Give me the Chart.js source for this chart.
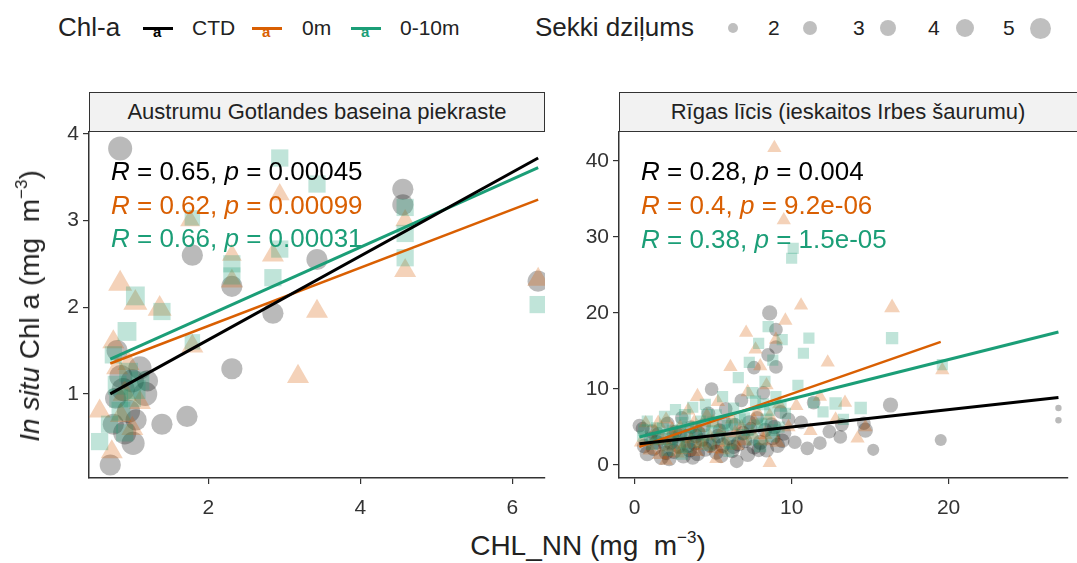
<!DOCTYPE html>
<html>
<head>
<meta charset="utf-8">
<script src="https://cdn.jsdelivr.net/npm/chart.js@4"></script>
<style>
body { margin:0; width:1077px; height:563px; background:#fff; position:relative; overflow:hidden; font-family:"Liberation Sans", Arial, sans-serif; color:#222; }
.abs { position:absolute; white-space:nowrap; }
canvas { position:absolute; }
.strip { position:absolute; top:92px; height:40px; box-sizing:border-box; border:1.5px solid #333; background:#f2f2f2; font-size:22px; line-height:37px; text-align:center; color:#222; white-space:nowrap; overflow:hidden; }
.cor { position:absolute; font-size:26px; line-height:34px; white-space:nowrap; }
.key { position:absolute; top:27px; width:30px; height:3px; }
.keya { position:absolute; top:23px; font-size:15px; font-weight:bold; }
.dot { position:absolute; border-radius:50%; background:rgba(0,0,0,0.25); }
sup { font-size:17px; vertical-align:12px; line-height:0; }
</style>
</head>
<body>

<!-- legend -->
<div class="abs" style="left:58px;top:12px;font-size:26px;">Chl-a</div>
<div class="key" style="left:143px;background:#000"></div><div class="keya" style="left:153px;color:#000">a</div>
<div class="abs" style="left:192px;top:16px;font-size:21px;">CTD</div>
<div class="key" style="left:252px;background:#D95F02"></div><div class="keya" style="left:262px;color:#D95F02">a</div>
<div class="abs" style="left:302px;top:16px;font-size:21px;">0m</div>
<div class="key" style="left:351px;background:#1B9E77"></div><div class="keya" style="left:361px;color:#1B9E77">a</div>
<div class="abs" style="left:400px;top:16px;font-size:21px;">0-10m</div>

<div class="abs" style="left:535px;top:12px;font-size:26px;">Sekki dziļums</div>
<div class="dot" style="left:728px;top:23px;width:10px;height:10px;"></div>
<div class="abs" style="left:768px;top:16px;font-size:21px;">2</div>
<div class="dot" style="left:803px;top:21px;width:14px;height:14px;"></div>
<div class="abs" style="left:853px;top:16px;font-size:21px;">3</div>
<div class="dot" style="left:880px;top:20px;width:16px;height:16px;"></div>
<div class="abs" style="left:928px;top:16px;font-size:21px;">4</div>
<div class="dot" style="left:956px;top:19px;width:18px;height:18px;"></div>
<div class="abs" style="left:1003px;top:16px;font-size:21px;">5</div>
<div class="dot" style="left:1030px;top:18px;width:21px;height:21px;"></div>

<!-- facet strips -->
<div class="strip" style="left:89px;width:456px;">Austrumu Gotlandes baseina piekraste</div>
<div class="strip" style="left:619px;width:470px;padding-right:12px;">Rīgas līcis (ieskaitos Irbes šaurumu)</div>

<canvas id="left" width="530" height="408" style="left:30px;top:112px;"></canvas>
<canvas id="right" width="517" height="408" style="left:560px;top:112px;"></canvas>

<!-- correlation labels -->
<div class="cor" style="left:111px;top:154px;color:#000"><i>R</i> = 0.65, <i>p</i> = 0.00045</div>
<div class="cor" style="left:111px;top:188px;color:#D95F02"><i>R</i> = 0.62, <i>p</i> = 0.00099</div>
<div class="cor" style="left:111px;top:221px;color:#1B9E77"><i>R</i> = 0.66, <i>p</i> = 0.00031</div>
<div class="cor" style="left:641px;top:154px;color:#000"><i>R</i> = 0.28, <i>p</i> = 0.004</div>
<div class="cor" style="left:641px;top:188px;color:#D95F02"><i>R</i> = 0.4, <i>p</i> = 9.2e-06</div>
<div class="cor" style="left:641px;top:222px;color:#1B9E77"><i>R</i> = 0.38, <i>p</i> = 1.5e-05</div>

<!-- axis titles -->
<div class="abs" style="left:30px;top:306px;font-size:28px;transform:translate(-50%,-50%) rotate(-90deg);"><i>In situ</i> Chl a (mg&nbsp; m<sup>−3</sup>)</div>
<div class="abs" style="left:588px;top:546px;font-size:28px;transform:translate(-50%,-50%);">CHL_NN (mg&nbsp; m<sup>−3</sup>)</div>

<script>
// Austrumu Gotlandes baseina piekraste: [CHL_NN, in situ Chl a, Secchi depth]
const gotCTD = [
  [0.84, 3.83, 7.5], [4.56, 3.36, 6], [4.56, 3.18, 6], [3.43, 2.55, 6], [1.79, 2.6, 6],
  [2.31, 2.24, 6], [2.85, 1.93, 6], [2.31, 1.29, 6], [1.72, 0.74, 6], [1.39, 0.65, 6],
  [0.71, 0.18, 6], [1.01, 0.43, 7], [6.34, 2.3, 6], [1.17, 1.0, 7.5], [0.8, 1.5, 6],
  [0.85, 1.2, 7], [0.95, 0.8, 7], [0.9, 0.55, 7], [1.05, 0.7, 6], [0.78, 0.95, 6],
  [1.1, 1.3, 7], [0.75, 0.65, 6], [1.2, 1.15, 6], [0.88, 1.05, 7], [1.0, 1.15, 7]
];
const got0m = [
  [0.84, 2.27, 7], [1.36, 1.98, 7], [1.04, 2.05, 7], [3.43, 1.95, 6], [3.18, 1.2, 6],
  [1.79, 1.55, 6], [4.59, 2.42, 6], [6.34, 2.32, 6], [2.85, 2.6, 6], [2.31, 2.3, 6],
  [1.76, 3.0, 5], [0.57, 0.8, 6], [0.73, 0.33, 6], [0.8, 1.3, 6], [0.9, 1.0, 7],
  [1.0, 0.6, 6], [0.75, 1.6, 6], [1.1, 0.9, 6], [2.31, 2.6, 5], [4.59, 3.0, 5],
  [0.95, 1.35, 6], [2.94, 3.3, 5], [0.85, 0.75, 6]
];
const got010 = [
  [2.94, 3.72, 6], [3.43, 3.42, 6], [2.31, 2.5, 6], [2.31, 2.36, 6], [2.85, 2.34, 6],
  [2.94, 2.67, 6], [4.59, 3.15, 6], [4.59, 2.57, 6], [4.59, 2.85, 6], [6.34, 2.03, 6],
  [1.04, 2.13, 7], [0.93, 1.72, 7], [1.39, 1.95, 6], [1.79, 3.03, 5], [0.57, 0.45, 6],
  [0.7, 0.65, 6], [0.8, 1.1, 7], [0.85, 0.8, 7], [0.95, 1.25, 7], [1.0, 0.95, 6],
  [0.75, 1.45, 6], [1.1, 1.15, 7], [0.9, 0.55, 6], [1.79, 1.6, 5], [0.82, 0.95, 7],
  [1.05, 1.05, 7]
];
// fitted lines (start, end)
const gotFitX = [0.71, 6.34];
const gotFitCTD = [1.0, 3.72];
const gotFit0m = [1.35, 3.24];
const gotFit010 = [1.40, 3.61];

// Rīgas līcis
const rigaCTD = [
  [0.3, 5.2, 3], [0.5, 4.8, 3], [0.8, 1.5, 3.5], [1.0, 3.5, 3], [1.2, 2.2, 3.5], [1.5, 4.1, 3],
  [1.7, 1.0, 3.5], [1.9, 2.8, 3], [2.1, 5.5, 3], [2.3, 3.0, 3.5], [2.5, 1.8, 3.5], [2.6, 4.4, 3],
  [2.8, 2.5, 3.5], [3.0, 6.2, 3], [3.1, 1.2, 3.5], [3.3, 3.8, 3], [3.5, 2.0, 3.5], [3.6, 5.0, 3],
  [3.8, 2.9, 3.5], [4.0, 1.5, 3.5], [4.1, 4.2, 3], [4.3, 3.3, 3], [4.5, 2.1, 3.5], [4.7, 6.8, 3],
  [4.9, 10.0, 3], [5.0, 3.0, 3.5], [5.2, 1.7, 3.5], [5.4, 4.6, 3], [5.6, 2.6, 3.5], [5.8, 7.4, 3],
  [6.0, 3.6, 3.5], [6.2, 1.9, 3.5], [6.4, 5.3, 3], [6.6, 2.8, 3.5], [6.8, 8.5, 3], [7.0, 3.2, 3.5],
  [7.2, 1.4, 3.5], [7.4, 4.8, 3], [7.6, 2.4, 3.5], [7.8, 6.2, 3], [8.0, 3.0, 3.5], [8.2, 9.5, 3],
  [8.4, 2.0, 3.5], [8.5, 14.5, 3], [8.6, 20.0, 3.5], [8.7, 5.4, 3], [8.8, 3.6, 3.5], [9.0, 17.8, 3],
  [9.0, 15.5, 3], [9.1, 2.6, 3.5], [9.3, 7.0, 3], [9.5, 4.2, 3.5], [9.8, 6.0, 3], [10.2, 3.0, 3],
  [10.6, 5.6, 3], [11.0, 2.2, 3], [11.4, 8.2, 3], [11.8, 2.9, 3], [12.4, 4.4, 3], [13.1, 3.7, 3],
  [13.2, 5.3, 3], [14.7, 4.6, 3.5], [14.6, 5.5, 3], [15.2, 2.0, 2.5], [16.3, 7.9, 3.5], [19.5, 3.3, 2.5],
  [27.0, 7.5, 1.3], [27.0, 5.9, 1.3], [9.0, 12.9, 3], [7.6, 12.8, 3], [6.5, 0.5, 3],
  [0.6, 2.5, 3.3], [1.1, 4.4, 3.3], [1.4, 3.0, 3.3], [2.0, 1.6, 3.3], [2.4, 3.6, 3.3], [2.9, 4.0, 3.3],
  [3.4, 2.6, 3.3], [3.9, 3.8, 3.3], [4.4, 5.2, 3.3], [4.8, 2.6, 3.3], [5.3, 3.8, 3.3], [5.7, 5.6, 3.3],
  [6.3, 2.4, 3.3], [6.9, 4.2, 3.3], [7.3, 5.6, 3.3], [7.9, 2.0, 3.3], [8.3, 4.6, 3.3], [8.9, 5.0, 3.3],
  [9.4, 3.2, 3.3], [5.5, 1.2, 3.3], [3.7, 1.0, 3.3], [2.2, 0.8, 3.3]
];
const riga0m = [
  [0.4, 3.0, 3], [0.7, 5.5, 3], [1.0, 2.0, 3.5], [1.3, 4.5, 3], [1.6, 1.4, 3.5], [1.8, 3.2, 3],
  [2.0, 6.0, 3], [2.2, 2.4, 3.5], [2.5, 3.8, 3], [2.7, 1.6, 3.5], [2.9, 5.0, 3], [3.2, 2.8, 3.5],
  [3.4, 7.2, 3], [3.6, 3.4, 3], [3.9, 1.8, 3.5], [4.1, 4.9, 3], [4.4, 2.6, 3.5], [4.6, 6.5, 3],
  [4.8, 3.8, 3], [5.1, 2.2, 3.5], [5.3, 8.3, 3], [5.5, 4.4, 3], [5.8, 3.0, 3.5], [6.1, 12.9, 3],
  [6.2, 6.0, 3], [6.5, 2.6, 3.5], [6.8, 5.0, 3], [7.1, 17.4, 3], [7.2, 9.6, 3], [7.5, 4.0, 3.5],
  [7.8, 7.0, 3], [8.0, 13.0, 3], [8.2, 3.2, 3.5], [8.4, 10.5, 3], [8.6, 0.3, 3], [8.6, 6.5, 3],
  [8.9, 41.7, 3], [9.0, 16.5, 3], [9.2, 8.0, 3], [9.5, 32.2, 3], [9.6, 19.0, 3], [9.8, 5.0, 3],
  [10.6, 21.0, 3], [10.3, 7.8, 3], [11.2, 4.5, 3], [11.8, 9.0, 3], [12.3, 13.5, 3], [12.8, 6.0, 3],
  [13.4, 8.2, 3], [14.2, 3.5, 3], [14.7, 5.0, 3], [16.4, 20.7, 3.5], [19.6, 12.5, 3], [2.0, 0.6, 3],
  [5.2, 0.8, 3], [7.7, 15.2, 3],
  [1.2, 3.2, 3.3], [2.4, 4.6, 3.3], [3.0, 2.0, 3.3], [3.8, 5.6, 3.3], [4.2, 3.0, 3.3], [5.0, 5.6, 3.3],
  [5.6, 2.0, 3.3], [6.4, 4.2, 3.3], [7.0, 3.2, 3.3], [7.6, 5.8, 3.3], [8.3, 4.0, 3.3], [9.1, 3.0, 3.3],
  [1.5, 5.5, 3.3], [4.0, 9.0, 3.3]
];
const riga010 = [
  [0.5, 3.8, 3], [0.8, 5.8, 3], [1.1, 2.8, 3.5], [1.4, 4.9, 3], [1.6, 3.5, 3.5], [1.9, 6.4, 3],
  [2.1, 2.0, 3.5], [2.4, 4.6, 3], [2.6, 7.3, 3], [2.8, 3.0, 3.5], [3.0, 5.6, 3], [3.3, 2.4, 3.5],
  [3.5, 4.0, 3], [3.7, 7.6, 3], [4.0, 3.1, 3.5], [4.2, 5.8, 3], [4.5, 8.0, 3], [4.7, 2.7, 3.5],
  [4.9, 4.5, 3], [5.2, 6.6, 3], [5.4, 3.5, 3.5], [5.6, 9.0, 3], [5.9, 5.2, 3], [6.1, 2.9, 3.5],
  [6.3, 7.5, 3], [6.6, 11.5, 3], [6.8, 4.0, 3], [7.0, 6.2, 3], [7.3, 13.5, 3], [7.5, 3.4, 3.5],
  [7.7, 8.4, 3], [7.9, 16.0, 3], [8.1, 5.5, 3], [8.3, 11.0, 3], [8.5, 18.2, 3], [8.6, 7.2, 3],
  [8.7, 3.8, 3.5], [8.8, 13.8, 3], [9.0, 9.0, 3], [9.2, 5.0, 3], [9.4, 16.5, 3], [9.6, 6.8, 3],
  [10.0, 27.2, 3], [10.1, 28.5, 3], [10.4, 10.5, 3], [10.75, 14.7, 3], [11.1, 16.7, 3], [11.4, 8.2, 3],
  [12.0, 7.0, 3], [12.8, 8.1, 3.5], [13.3, 6.0, 3], [14.4, 7.5, 3.5], [16.4, 16.7, 3.5], [19.6, 13.2, 3],
  [3.0, 1.5, 3.5], [6.0, 1.8, 3], [8.0, 2.5, 3.5],
  [0.6, 4.6, 3.3], [1.3, 3.6, 3.3], [1.8, 4.8, 3.3], [2.3, 3.4, 3.3], [2.9, 4.4, 3.3], [3.4, 5.0, 3.3],
  [3.9, 4.4, 3.3], [4.4, 4.0, 3.3], [5.0, 5.6, 3.3], [5.6, 4.6, 3.3], [6.2, 5.4, 3.3], [6.7, 6.0, 3.3],
  [7.2, 4.6, 3.3], [7.8, 5.2, 3.3], [8.4, 6.0, 3.3], [8.9, 4.6, 3.3], [9.3, 7.8, 3.3], [4.6, 6.6, 3.3],
  [3.2, 6.6, 3.3], [7.5, 9.5, 3.3], [8.2, 8.0, 3.3]
];
const rigaFitX = [0.3, 27.0];
const rigaFitX0m = [0.3, 19.5];
const rigaFitCTD = [2.8, 8.9];
const rigaFit0m = [2.4, 16.2];
const rigaFit010 = [3.7, 17.5];

// axis ranges / tick labels
const gotXTicks = [2, 4, 6];
const gotYTicks = [1, 2, 3, 4];
const rigaXTicks = [0, 10, 20];
const rigaYTicks = [0, 10, 20, 30, 40];

const colCTD = '#000000', col0m = '#D95F02', col010 = '#1B9E77';

function secchiRadius(s) {
  return Math.sqrt(Math.max(21.7 * s - 18, 4));
}

function toPts(arr) {
  return arr.map(p => ({ x: p[0], y: p[1], s: p[2] }));
}

function fitLine(xs, ys, color, w) {
  return {
    type: 'line',
    data: [{ x: xs[0], y: ys[0] }, { x: xs[1], y: ys[1] }],
    borderColor: color,
    borderWidth: w,
    pointRadius: 0,
    fill: false
  };
}

function pointSet(arr, color, style, k) {
  return {
    type: 'scatter',
    data: toPts(arr),
    pointStyle: style,
    backgroundColor: color,
    borderWidth: 0,
    pointRadius: ctx => secchiRadius(ctx.raw.s) * k
  };
}

function axis(min, max, ticks, isX) {
  return {
    type: 'linear',
    min: min,
    max: max,
    afterBuildTicks: s => { s.ticks = ticks.map(v => ({ value: v })); },
    afterFit: s => { if (isX) s.height = 42; else s.width = 59; },
    ticks: { color: '#333', font: { size: 21, family: 'Liberation Sans' }, padding: isX ? 12 : 4, autoSkip: false, maxRotation: 0 },
    grid: { drawOnChartArea: false, drawTicks: true, tickLength: 6, color: '#333', lineWidth: 1.2 },
    border: { display: true, color: '#333', width: 1.5 }
  };
}

function makePanel(id, datasets, xr, yr, padRight) {
  new Chart(document.getElementById(id), {
    type: 'scatter',
    data: { datasets: datasets },
    options: {
      responsive: false,
      animation: false,
      devicePixelRatio: 1,
      layout: { padding: { top: 20, right: padRight, left: 0, bottom: 0 } },
      plugins: { legend: { display: false }, tooltip: { enabled: false } },
      scales: { x: xr, y: yr }
    }
  });
}

makePanel('left', [
  fitLine(gotFitX, gotFitCTD, colCTD, 3),
  fitLine(gotFitX, gotFit010, col010, 3),
  fitLine(gotFitX, gotFit0m, col0m, 2.5),
  pointSet(got010, 'rgba(27,158,119,0.28)', 'rect', 1.15),
  pointSet(got0m, 'rgba(217,95,2,0.28)', 'triangle', 1.2),
  pointSet(gotCTD, 'rgba(0,0,0,0.27)', 'circle', 1)
], axis(0.43, 6.43, gotXTicks, true), axis(0.03, 4.02, gotYTicks, false), 15);

makePanel('right', [
  fitLine(rigaFitX, rigaFitCTD, colCTD, 3),
  fitLine(rigaFitX, rigaFit010, col010, 3),
  fitLine(rigaFitX0m, rigaFit0m, col0m, 2.5),
  pointSet(riga010, 'rgba(27,158,119,0.28)', 'rect', 1.15),
  pointSet(riga0m, 'rgba(217,95,2,0.28)', 'triangle', 1.2),
  pointSet(rigaCTD, 'rgba(0,0,0,0.27)', 'circle', 1)
], axis(-1.0, 27.6, rigaXTicks, true), axis(-1.7, 43.8, rigaYTicks, false), 0);
</script>
</body>
</html>
